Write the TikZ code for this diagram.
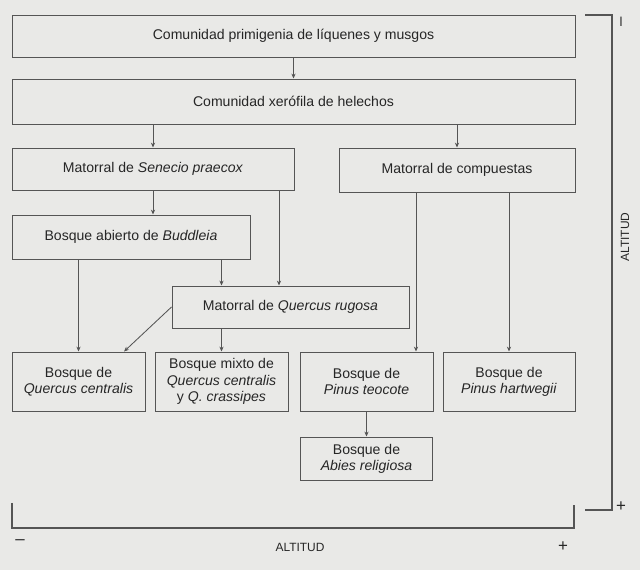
\documentclass[tikz,border=0pt]{standalone}
\usepackage{fontspec}
\setmainfont{Liberation Sans}
\usetikzlibrary{arrows.meta,calc}
\definecolor{paper}{HTML}{E9E9E7}
\definecolor{ink}{HTML}{555555}
\definecolor{txt}{HTML}{262626}
\newcommand{\px}{0.025cm}
\tikzset{
  caja/.style={draw=ink, line width=0.7pt, fill=paper, align=center, inner sep=1pt,
    text=txt, font=\fontsize{10}{11.5}\selectfont},
  flecha/.style={draw=ink, line width=0.6pt, -{Stealth[length=3.5pt,width=3pt]}},
  eje/.style={draw=ink, line width=0.8pt},
  rotulo/.style={text=txt, inner sep=0pt, font=\fontsize{8.5}{10}\selectfont},
  signo/.style={text=txt, inner sep=0pt, font=\fontsize{12}{12}\selectfont},
}
\begin{document}
\begin{tikzpicture}[x=\px, y=-\px]
\fill[paper] (0,0) rectangle (640,570);
\useasboundingbox (0,0) rectangle (640,570);
% comunidades y matorrales
\node[caja, minimum width=563*\px, minimum height=42*\px] (liquenes) at (293.5,36) {Comunidad primigenia de líquenes y musgos};
\node[caja, minimum width=563*\px, minimum height=45*\px] (helechos) at (293.5,101.5) {Comunidad xerófila de helechos};
\node[caja, minimum width=282*\px, minimum height=42*\px] (senecio) at (153,169) {Matorral de \textit{Senecio praecox}};
\node[caja, minimum width=236*\px, minimum height=44*\px] (compuestas) at (457,170) {Matorral de compuestas};
\node[caja, minimum width=238*\px, minimum height=44*\px] (buddleia) at (131,237) {Bosque abierto de \textit{Buddleia}};
\node[caja, minimum width=237*\px, minimum height=42*\px] (rugosa) at (290.5,307) {Matorral de \textit{Quercus rugosa}};
% bosques
\node[caja, minimum width=133*\px, minimum height=59*\px] (centralis) at (78.5,381.5) {Bosque de\\\textit{Quercus centralis}};
\node[caja, minimum width=133*\px, minimum height=59*\px] (mixto) at (221.5,381.5) {Bosque mixto de\\\textit{Quercus centralis}\\y \textit{Q. crassipes}};
\node[caja, minimum width=133*\px, minimum height=59*\px] (teocote) at (366.5,381.5) {Bosque de\\\textit{Pinus teocote}};
\node[caja, minimum width=132*\px, minimum height=59*\px] (hartwegii) at (509,381.5) {Bosque de\\\textit{Pinus hartwegii}};
\node[caja, minimum width=132*\px, minimum height=43*\px] (abies) at (366.5,458.5) {Bosque de\\\textit{Abies religiosa}};
\coordinate (colA) at (279,0);
\coordinate (colB) at (416,0);
% sucesion
\draw[flecha] (liquenes) -- (helechos);
\draw[flecha] (helechos.south -| senecio.north) -- (senecio.north);
\draw[flecha] (helechos.south -| compuestas.north) -- (compuestas.north);
\draw[flecha] (senecio.south) -- (senecio.south |- buddleia.north);
\draw[flecha] (senecio.south -| colA) -- (rugosa.north -| colA);
\draw[flecha] (buddleia.south -| centralis.north) -- (centralis.north);
\draw[flecha] (buddleia.south -| mixto.north) -- (rugosa.north -| mixto.north);
\draw[flecha] (rugosa.south -| mixto.north) -- (mixto.north);
\draw[flecha] (rugosa.west) -- ($(centralis.north west)!0.84!(centralis.north east)$);
\draw[flecha] (compuestas.south -| colB) -- (teocote.north -| colB);
\draw[flecha] (compuestas.south -| hartwegii.north) -- (hartwegii.north);
\draw[flecha] (teocote) -- (abies);
% ejes de altitud
\draw[eje] (585,15) -- (612,15) -- (612,510) -- (585,510);
\draw[eje] (12,503) -- (12,528) -- (574,528) -- (574,505);
\node[rotulo, rotate=90] (altv) at (625,237) {ALTITUD};
\node[signo, rotate=90] (menosv) at (623,22) {\textendash};
\node[signo] (masv) at (621,507) {+};
\node[rotulo] (alth) at (300,547) {ALTITUD};
\node[signo] (menosh) at (20,542) {\textendash};
\node[signo] (mash) at (563,547) {+};
\end{tikzpicture}
\end{document}
